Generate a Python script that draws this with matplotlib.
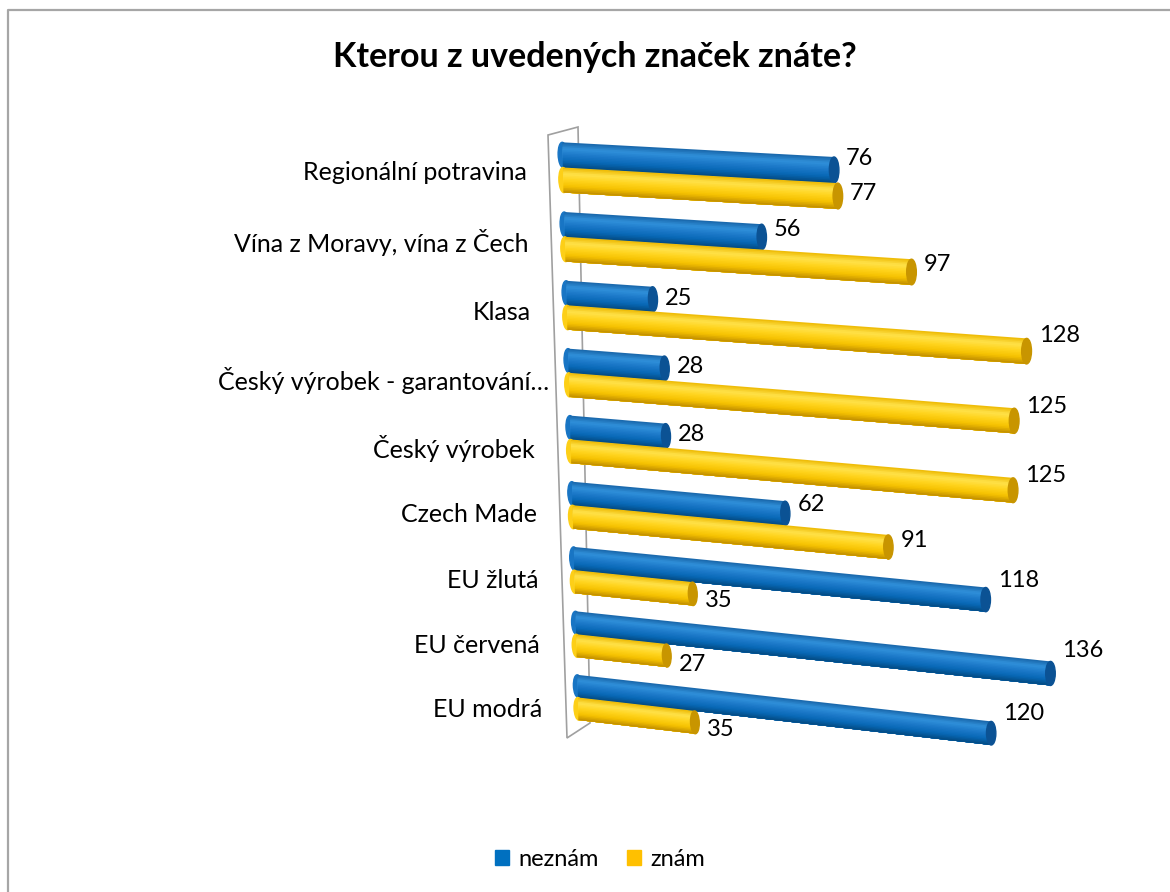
import numpy as np
import matplotlib
matplotlib.use('Agg')
import matplotlib.pyplot as plt
import matplotlib.transforms as mtransforms
from matplotlib.patches import Ellipse, Patch, Polygon
from matplotlib.colors import LinearSegmentedColormap

categories = ['Regionální potravina', 'Vína z Moravy, vína z Čech', 'Klasa',
              'Český výrobek - garantování…', 'Český výrobek', 'Czech Made',
              'EU žlutá', 'EU červená', 'EU modrá']
neznam = [76, 56, 25, 28, 28, 62, 118, 136, 120]
znam = [77, 97, 128, 125, 125, 91, 35, 27, 35]
series_names = ['neznám', 'znám']
title = 'Kterou z uvedených značek znáte?'

plt.rcParams['font.family'] = ['Lato', 'DejaVu Sans']

W, H = 1170, 892
fig = plt.figure(figsize=(W / 100, H / 100), dpi=100)
ax = fig.add_axes([0, 0, 1, 1])
ax.set_xlim(0, W)
ax.set_ylim(H, 0)
ax.set_autoscale_on(False)
ax.axis('off')

# perspective of the 3d floor: (value, row) -> pixel of the picture
src = [(0, 0), (0, 8), (76.5, 0), (120, 8)]
dst = [(563, 167.5), (578, 697.5), (836, 183), (991, 745)]


def homography(src, dst):
    A, b = [], []
    for (x, y), (X, Y) in zip(src, dst):
        A.append([x, y, 1, 0, 0, 0, -X * x, -X * y])
        b.append(X)
        A.append([0, 0, 0, x, y, 1, -Y * x, -Y * y])
        b.append(Y)
    h = np.linalg.solve(np.array(A, float), np.array(b, float))
    return np.append(h, 1).reshape(3, 3)


class Perspective(mtransforms.Transform):
    input_dims = output_dims = 2

    def __init__(self, m):
        super().__init__()
        self.m = m

    def transform_non_affine(self, values):
        v = np.asarray(values, float)
        p = np.column_stack([v, np.ones(len(v))]) @ self.m.T
        return p[:, :2] / p[:, 2:3]


proj = Perspective(homography(src, dst)) + ax.transData


def shifted(dx, dy):
    # offset in picture pixels (dy positive = down)
    return proj + mtransforms.ScaledTranslation(dx / fig.dpi, -dy / fig.dpi, fig.dpi_scale_trans)


# chart frame and the side wall
ax.plot([8, 8, W], [H, 10, 10], color='#A6A6A6', lw=1.6, zorder=0)
ax.add_patch(Polygon([(548, 135), (578, 127), (590, 723), (567, 738)], closed=True,
                     fill=False, edgecolor='#A0A0A0', lw=1.2, zorder=1))

blue_cmap = LinearSegmentedColormap.from_list('b', ['#1864A8', '#3090DA', '#1C78C8', '#0868B6', '#034B82'])
yellow_cmap = LinearSegmentedColormap.from_list('y', ['#EDB800', '#FFE24A', '#FFD31C', '#F5C100', '#C08D00'])
cap_colors = ['#0B5294', '#C89500']

bar_h = 0.36
n = 16
t = (np.arange(n) + 0.5) / n
tops = np.arange(n) / n * bar_h
z = 3
for i in range(len(categories)):
    for s, (vals, cmap, cap) in enumerate([(neznam, blue_cmap, cap_colors[0]),
                                           (znam, yellow_cmap, cap_colors[1])]):
        w = i + (s - 0.5) * bar_h
        v = vals[i]
        # each shading strip runs to the lower edge, the next one covers it
        heights = bar_h - tops
        ys = w - bar_h / 2 + tops + heights / 2
        ax.add_patch(Ellipse((0, w), 2.6, bar_h, color=cmap(0.55), transform=proj, zorder=z))
        ax.barh(ys, [v] * n, height=heights, left=0, color=cmap(t),
                linewidth=0, transform=proj, zorder=z + 0.1)
        ax.add_patch(Ellipse((v, w), 2.6, bar_h, color=cap, transform=proj, zorder=z + 0.2))
        z += 1

# value labels
for i, v in enumerate(neznam):
    ax.text(v, i - bar_h / 2, str(v), transform=shifted(12, 4 - 0.2 * v),
            ha='left', va='center', fontsize=17, zorder=50)
for i, v in enumerate(znam):
    ax.text(v, i + bar_h / 2, str(v), transform=shifted(12, 15.5 - 0.24 * v),
            ha='left', va='center', fontsize=17, zorder=50)

# category labels
for i, c in enumerate(categories):
    dx = -20 if c.endswith('…') else -36
    ax.text(0, i, c, transform=shifted(dx, 5 + 0.9 * i),
            ha='right', va='center', fontsize=18, zorder=50)

ax.text(595, 57, title, ha='center', va='center', fontsize=24.5, fontweight='bold')

handles = [Patch(color='#0070C0', label=series_names[0]),
           Patch(color='#FFC000', label=series_names[1])]
fig.legend(handles=handles, loc='center', bbox_to_anchor=(600 / W, 1 - 859 / H), ncol=2,
           frameon=False, fontsize=17, handlelength=0.6, handleheight=0.6,
           handletextpad=0.4, columnspacing=1.2)

fig.savefig('out.png', dpi=100)
